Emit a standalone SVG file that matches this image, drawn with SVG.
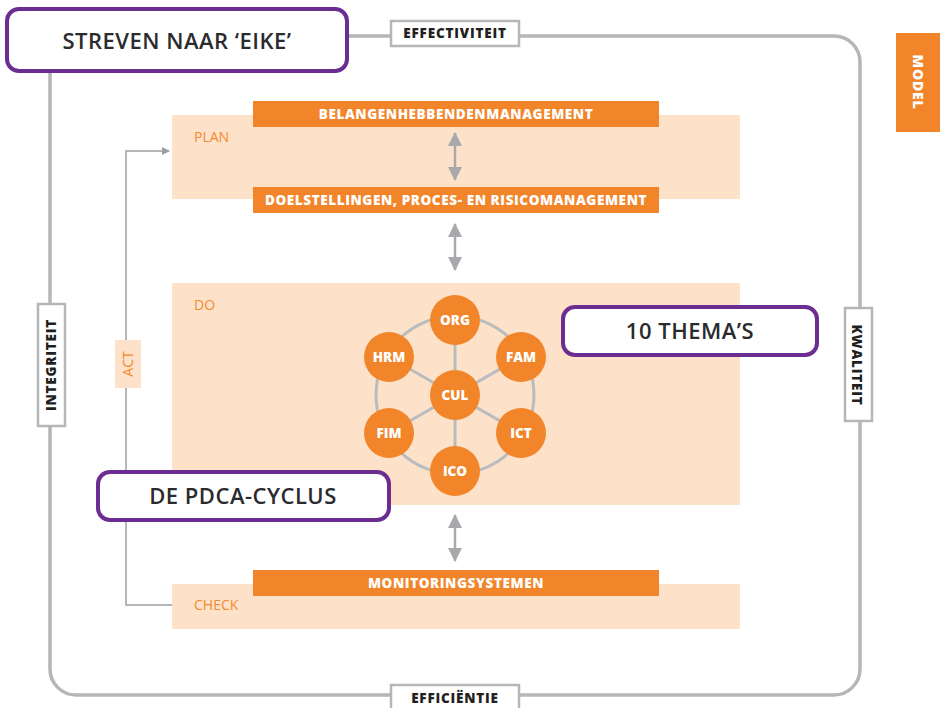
<svg xmlns="http://www.w3.org/2000/svg" width="942" height="708" viewBox="0 0 942 708">
<defs>
<style>
.frame{fill:none;stroke:#b4b6b8;stroke-width:3.5}
.tag{fill:#fff;stroke:#b4b6b8;stroke-width:2.5}
.tagt{font-family:"Open Sans","DejaVu Sans",sans-serif;font-weight:800;font-size:13.5px;fill:#231f20;text-anchor:middle;letter-spacing:0.8px}
.title{fill:#fff;stroke:#6b2d8f;stroke-width:4}
.titlet{font-family:"Open Sans","DejaVu Sans",sans-serif;font-weight:600;font-size:22px;fill:#2b2b2e;text-anchor:middle;letter-spacing:0.5px}
.zone{fill:#fde2c9}
.zonet{font-family:"Open Sans","Liberation Sans",sans-serif;font-size:14px;fill:#f28a2e}
.bar{fill:#f2852a}
.bart{font-family:"Open Sans","DejaVu Sans",sans-serif;font-weight:800;font-size:13.5px;fill:#fff;text-anchor:middle;letter-spacing:0.6px}
.circ{fill:#f2852a}
.circt{font-family:"Open Sans","DejaVu Sans",sans-serif;font-weight:800;font-size:13.5px;fill:#fff;text-anchor:middle}
.ring{fill:none;stroke:#b9bcbf;stroke-width:3}
.pd{fill:none;stroke:#9d9fa2;stroke-width:1.5}
.dbl{stroke:#a7a9ac;stroke-width:2.5}
</style>
<marker id="ah" markerWidth="8" markerHeight="8" refX="7" refY="4" orient="auto" markerUnits="userSpaceOnUse" viewBox="0 0 8 8">
<path d="M0,0 L8,4 L0,8 z" fill="#9d9fa2"/>
</marker>
<marker id="dh" markerWidth="14" markerHeight="16" refX="13" refY="8" orient="auto-start-reverse" markerUnits="userSpaceOnUse" viewBox="0 0 14 16">
<path d="M0,1 L14,8 L0,15 z" fill="#a7a9ac"/>
</marker>
</defs>
<rect width="942" height="708" fill="#fff"/>

<g id="frame">
<rect class="frame" x="50" y="36" width="810" height="659" rx="26" ry="26"/>
</g>

<g id="zones">
<g id="plan"><rect class="zone" x="172" y="115" width="568" height="84"/><text class="zonet" x="194" y="142">PLAN</text></g>
<g id="do"><rect class="zone" x="172" y="283" width="568" height="222"/><text class="zonet" x="194" y="310">DO</text></g>
<g id="check"><rect class="zone" x="172" y="584" width="568" height="45"/><text class="zonet" x="194" y="610">CHECK</text></g>
</g>

<g id="connectors">
<path class="pd" d="M172,605 H126 V151 H169" marker-end="url(#ah)"/>
<line class="dbl" x1="455" y1="133" x2="455" y2="180" marker-start="url(#dh)" marker-end="url(#dh)"/>
<line class="dbl" x1="455" y1="224" x2="455" y2="270" marker-start="url(#dh)" marker-end="url(#dh)"/>
<line class="dbl" x1="455" y1="515" x2="455" y2="561" marker-start="url(#dh)" marker-end="url(#dh)"/>
<circle class="ring" cx="455" cy="395" r="79"/>
<path class="ring" d="M455,320 V471 M389,357 L521,433 M521,357 L389,433"/>
</g>

<g id="act"><rect x="115" y="340" width="26" height="48" fill="#fde2c9"/><text class="zonet" transform="translate(133,364) rotate(-90)" text-anchor="middle">ACT</text></g>

<g id="belangen"><rect class="bar" x="253" y="101" width="406" height="26"/><text class="bart" x="456" y="119">BELANGENHEBBENDENMANAGEMENT</text></g>
<g id="doelstellingen"><rect class="bar" x="253" y="187" width="406" height="26"/><text class="bart" x="456" y="205">DOELSTELLINGEN, PROCES- EN RISICOMANAGEMENT</text></g>
<g id="monitoring"><rect class="bar" x="253" y="570" width="406" height="26"/><text class="bart" x="456" y="588">MONITORINGSYSTEMEN</text></g>

<g id="org"><circle class="circ" cx="455" cy="320" r="25"/><text class="circt" x="455" y="325">ORG</text></g>
<g id="hrm"><circle class="circ" cx="389" cy="357" r="25"/><text class="circt" x="389" y="362">HRM</text></g>
<g id="fam"><circle class="circ" cx="521" cy="357" r="25"/><text class="circt" x="521" y="362">FAM</text></g>
<g id="cul"><circle class="circ" cx="455" cy="395" r="25"/><text class="circt" x="455" y="400">CUL</text></g>
<g id="fim"><circle class="circ" cx="389" cy="433" r="25"/><text class="circt" x="389" y="438">FIM</text></g>
<g id="ict"><circle class="circ" cx="521" cy="433" r="25"/><text class="circt" x="521" y="438">ICT</text></g>
<g id="ico"><circle class="circ" cx="455" cy="471" r="25"/><text class="circt" x="455" y="476">ICO</text></g>

<g id="streven"><rect class="title" x="7" y="9" width="340" height="62" rx="12"/><text class="titlet" x="177" y="49">STREVEN NAAR ‘EIKE’</text></g>
<g id="themas"><rect class="title" x="563" y="307" width="254" height="48" rx="12"/><text class="titlet" x="690" y="339">10 THEMA’S</text></g>
<g id="pdca"><rect class="title" x="98" y="472" width="291" height="48" rx="12"/><text class="titlet" x="243" y="504">DE PDCA-CYCLUS</text></g>

<g id="effectiviteit"><rect class="tag" x="391" y="21" width="128" height="25"/><text class="tagt" x="455" y="38">EFFECTIVITEIT</text></g>
<g id="efficientie"><rect class="tag" x="391" y="685" width="128" height="30"/><text class="tagt" x="455" y="703">EFFICIËNTIE</text></g>
<g id="integriteit"><rect class="tag" x="38" y="304" width="27" height="122"/><text class="tagt" transform="translate(56,365) rotate(-90)">INTEGRITEIT</text></g>
<g id="kwaliteit"><rect class="tag" x="845" y="308" width="27" height="113"/><text class="tagt" transform="translate(852,365) rotate(90)">KWALITEIT</text></g>

<g id="model"><rect x="896" y="33" width="44" height="99" fill="#f2852a"/><text transform="translate(913,82) rotate(90)" text-anchor="middle" font-family="Open Sans,DejaVu Sans,sans-serif" font-weight="800" font-size="14" letter-spacing="0.8" fill="#fff">MODEL</text></g>
</svg>
